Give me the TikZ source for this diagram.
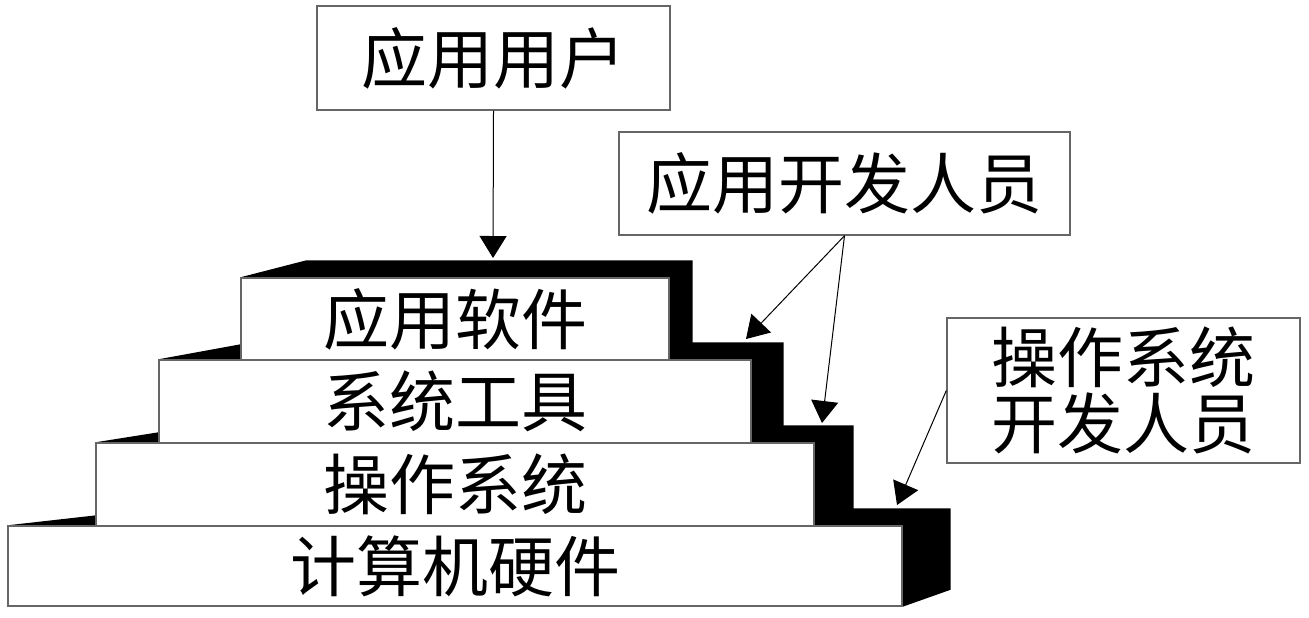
\documentclass[tikz,border=0pt]{standalone}
\usepackage{fontspec}
\usepackage{tikz}
\usetikzlibrary{calc,backgrounds,arrows.meta}
\newfontfamily\cjk{Noto Sans CJK SC}
% black top and right faces of one stair block
\newcommand{\stepfaces}[3]{%
  \fill (#1.north west) -- ($(#1.north west)+(#2,-17)$) -- ($(#1.north east)+(#3,-17)$)
    -- ($(#1.south east)+(#3,-17)$) -- (#1.south east) -- (#1.north east) -- cycle;}

\begin{document}
\begin{tikzpicture}[x=0.5pt,y=-0.5pt,
    block/.style={draw=black!60,fill=white,line width=0.7pt,inner sep=0pt,
      font=\cjk\fontsize{33}{33}\selectfont},
    tagbox/.style={draw=black!60,fill=white,line width=0.7pt,inner sep=0pt,align=center,
      font=\cjk\fontsize{33}{33}\selectfont},
    arr/.style={-{Triangle[length=11pt,width=13.5pt]},line width=0.5pt}]
  \useasboundingbox (0,0) rectangle (1309,617);

      \node[block,minimum width=447pt,minimum height=40pt] (4) at (455,566) {计算机硬件};
      \node[block,minimum width=359pt,minimum height=41.5pt] (3) at (455,484.5) {操作系统};
      \node[block,minimum width=296pt,minimum height=41.5pt] (2) at (455,401.5) {系统工具};
      \node[block,minimum width=214pt,minimum height=41pt] (1) at (455,319) {应用软件};

      \begin{pgfonlayer}{background}
        \stepfaces{4}{151}{48}
        \stepfaces{3}{107}{39}
        \stepfaces{2}{93}{32}
        \stepfaces{1}{66}{23}
      \end{pgfonlayer}

      \node[tagbox,minimum width=176.5pt,minimum height=52pt] (5) at (493.5,58) {应用用户};
      \node[tagbox,minimum width=225.5pt,minimum height=51.5pt] (6) at (844.5,183.5) {应用开发人员};
      \node[tagbox,minimum width=176.5pt,minimum height=72.5pt] (7) at (1123.5,390.5) {操作系统\\开发人员};

      \coordinate (a1) at (493,258);
      \coordinate (a2) at (746,339);
      \coordinate (a3) at (822,423);
      \coordinate (a4) at (897,505);

      \draw[arr] (5.south) -- (a1);
      \draw[arr] (6.south) -- (a2);
      \draw[arr] (6.south) -- (a3);
      \draw[arr] (7.west) -- (a4);
    \end{tikzpicture}
\end{document}
